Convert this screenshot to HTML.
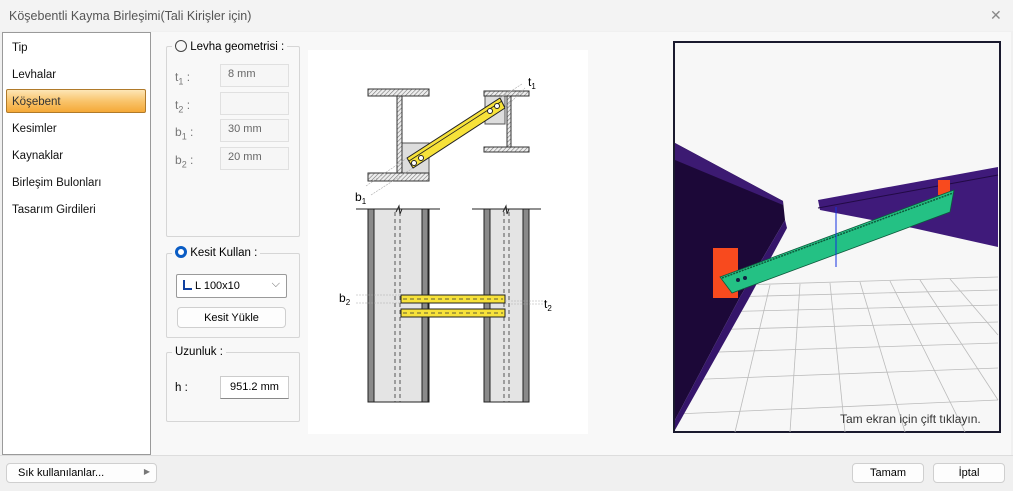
<!DOCTYPE html>
<html><head><meta charset="utf-8"><style>
*{margin:0;padding:0;box-sizing:border-box}
body{width:1013px;height:491px;background:#f0f0f0;font-family:"Liberation Sans",sans-serif;font-size:12px;color:#000;position:relative;overflow:hidden}
.a{position:absolute}
.title{left:0;top:0;width:1013px;height:31px;background:#f3f3f3;color:#555;font-size:12.5px;padding:9px 0 0 9px}
.list{left:2px;top:32px;width:149px;height:423px;background:#fff;border:1px solid #9a9a9a}
.li{position:absolute;left:12px;font-size:11.5px;color:#111}
.sel{left:6px;top:89px;width:140px;height:24px;border:1px solid #b07a2a;border-radius:2px;background:linear-gradient(#fde6b6,#f9c46c 50%,#f5a938)}
.grp{border:1px solid #d6d6d6;border-radius:2px}
.lbl{background:#f8f8f8;padding:0 3px;font-size:11.5px}
.inp{background:#f6f6f6;border:1px solid #e0e0e0;color:#666;font-size:11px;padding:3px 0 0 7px}
.btn{background:#fdfdfd;border:1px solid #cfcfcf;border-radius:4px;font-size:11px;text-align:center}
</style></head><body>
<div class="a title">Köşebentli Kayma Birleşimi(Tali Kirişler için)</div>
<div class="a" style="left:990px;top:7px;font-size:14px;color:#888">✕</div>
<div class="a" style="left:151px;top:32px;width:860px;height:423px;background:#f8f8f8"></div>
<div class="a list"></div>
<div class="a sel"></div>
<div class="a li" style="top:42px">Tip</div>
<div class="a li" style="top:69px">Levhalar</div>
<div class="a li" style="top:96px;color:#333">Köşebent</div>
<div class="a li" style="top:123px">Kesimler</div>
<div class="a li" style="top:150px">Kaynaklar</div>
<div class="a li" style="top:177px">Birleşim Bulonları</div>
<div class="a li" style="top:204px">Tasarım Girdileri</div>

<div class="a grp" style="left:166px;top:46px;width:134px;height:191px"></div>
<div class="a lbl" style="left:172px;top:40px"><span style="display:inline-block;width:12px;height:12px;border:1px solid #444;border-radius:50%;vertical-align:-2px"></span> Levha geometrisi :</div>
<div class="a" style="left:175px;top:70px;color:#777;font-size:12px">t<sub style="font-size:9px">1</sub> :</div>
<div class="a" style="left:175px;top:98px;color:#777;font-size:12px">t<sub style="font-size:9px">2</sub> :</div>
<div class="a" style="left:175px;top:125px;color:#777;font-size:12px">b<sub style="font-size:9px">1</sub> :</div>
<div class="a" style="left:175px;top:153px;color:#777;font-size:12px">b<sub style="font-size:9px">2</sub> :</div>
<div class="a inp" style="left:220px;top:64px;width:69px;height:23px">8 mm</div>
<div class="a inp" style="left:220px;top:92px;width:69px;height:23px"></div>
<div class="a inp" style="left:220px;top:119px;width:69px;height:23px">30 mm</div>
<div class="a inp" style="left:220px;top:147px;width:69px;height:23px">20 mm</div>

<div class="a grp" style="left:166px;top:253px;width:134px;height:85px"></div>
<div class="a lbl" style="left:172px;top:246px"><span style="display:inline-block;width:12px;height:12px;border:3.5px solid #0a5cc4;border-radius:50%;vertical-align:-2px;background:#fff"></span> Kesit Kullan :</div>
<div class="a" style="left:176px;top:274px;width:111px;height:24px;background:#fff;border:1px solid #9a9a9a;border-radius:2px;font-size:11px;padding:5px 0 0 6px"><span style="display:inline-block;width:9px;height:10px;border-left:2px solid #1040a0;border-bottom:2px solid #1040a0;vertical-align:-1px"></span> L 100x10<span style="position:absolute;right:6px;top:3px;color:#666">⌵</span></div>
<div class="a btn" style="left:177px;top:307px;width:109px;height:21px;padding-top:4px">Kesit Yükle</div>

<div class="a grp" style="left:166px;top:352px;width:134px;height:70px"></div>
<div class="a lbl" style="left:172px;top:346px">Uzunluk :</div>
<div class="a" style="left:175px;top:382px;font-size:11.5px">h :</div>
<div class="a" style="left:220px;top:376px;width:69px;height:23px;background:#fff;border:1px solid #ccc;border-bottom-color:#888;font-size:11px;padding:4px 0 0 9px">951.2 mm</div>

<svg class="a" style="left:0;top:0" width="1013" height="491">
<defs><pattern id="h" width="3" height="3" patternUnits="userSpaceOnUse" patternTransform="rotate(45)"><rect width="3" height="3" fill="#eee"/><line x1="0" y1="0" x2="0" y2="3" stroke="#777" stroke-width="1.2"/></pattern></defs>
<rect x="308" y="50" width="280" height="384" fill="#fff"/>
<rect x="401" y="143" width="28" height="30" fill="#ddd" stroke="#555"/>
<rect x="485" y="96" width="20" height="28" fill="#ddd" stroke="#555"/>
<rect x="368" y="89" width="61" height="7" fill="url(#h)" stroke="#333"/>
<rect x="397" y="96" width="5" height="77" fill="url(#h)" stroke="#333"/>
<rect x="368" y="173" width="61" height="8" fill="url(#h)" stroke="#333"/>
<rect x="484" y="91" width="45" height="5" fill="url(#h)" stroke="#333"/>
<rect x="507" y="96" width="4" height="51" fill="url(#h)" stroke="#333"/>
<rect x="484" y="147" width="45" height="5" fill="url(#h)" stroke="#333"/>
<polygon points="407,158 413,168 505,108 500,98" fill="#f7e23a" stroke="#222"/>
<line x1="409" y1="161" x2="502" y2="101" stroke="#222" stroke-width=".8"/>
<g fill="#fff" stroke="#222"><circle cx="414" cy="163" r="2.5"/><circle cx="421" cy="158" r="2.5"/><circle cx="490" cy="111" r="2.5"/><circle cx="497" cy="106" r="2.5"/></g>
<g stroke="#aaa" stroke-width=".6" stroke-dasharray="2,1"><line x1="366" y1="186" x2="407" y2="158"/><line x1="371" y1="195" x2="413" y2="168"/><line x1="500" y1="98" x2="522" y2="84"/><line x1="505" y1="108" x2="525" y2="88"/></g>
<text x="355" y="201" font-size="12">b<tspan font-size="8" dy="3">1</tspan></text>
<text x="528" y="86" font-size="12">t<tspan font-size="8" dy="3">1</tspan></text>
<g stroke="#222" stroke-width="1">
<line x1="356" y1="209" x2="440" y2="209"/><line x1="472" y1="209" x2="541" y2="209"/>
<rect x="368" y="209" width="61" height="193" fill="#e4e4e4"/>
<rect x="368" y="209" width="6" height="193" fill="#8a8a8a"/><rect x="422" y="209" width="6" height="193" fill="#8a8a8a"/>
<rect x="484" y="209" width="45" height="193" fill="#e4e4e4"/>
<rect x="484" y="209" width="6" height="193" fill="#8a8a8a"/><rect x="523" y="209" width="6" height="193" fill="#8a8a8a"/>
</g>
<g stroke="#333" stroke-width=".8" stroke-dasharray="4,3"><line x1="395" y1="212" x2="395" y2="402"/><line x1="400" y1="212" x2="400" y2="402"/><line x1="504" y1="212" x2="504" y2="402"/><line x1="509" y1="212" x2="509" y2="402"/></g>
<path d="M396 212 l3 -6 l1 8 l2 -5" fill="none" stroke="#222"/><path d="M503 212 l3 -6 l1 8 l2 -5" fill="none" stroke="#222"/>
<rect x="401" y="295" width="104" height="8" fill="#f7e23a" stroke="#222"/>
<rect x="401" y="309" width="104" height="8" fill="#f7e23a" stroke="#222"/>
<g stroke="#333" stroke-width=".7" stroke-dasharray="4,3"><line x1="403" y1="299" x2="503" y2="299"/><line x1="403" y1="313" x2="503" y2="313"/></g>
<g stroke="#aaa" stroke-width=".6" stroke-dasharray="2,1"><line x1="356" y1="295" x2="401" y2="295"/><line x1="356" y1="303" x2="401" y2="303"/><line x1="505" y1="301" x2="545" y2="301"/><line x1="505" y1="304" x2="545" y2="304"/></g>
<text x="339" y="302" font-size="12">b<tspan font-size="8" dy="3">2</tspan></text>
<text x="544" y="308" font-size="12">t<tspan font-size="8" dy="3">2</tspan></text>
<rect x="674" y="42" width="326" height="390" fill="#f7f7f7" stroke="#1a1a2e" stroke-width="2"/>
<g stroke="#bbb" stroke-width=".8">
<line x1="740" y1="285" x2="998" y2="277"/><line x1="725" y1="297" x2="998" y2="290"/><line x1="712" y1="312" x2="998" y2="305"/><line x1="700" y1="330" x2="998" y2="322"/><line x1="688" y1="353" x2="998" y2="343"/><line x1="680" y1="380" x2="998" y2="368"/><line x1="676" y1="414" x2="998" y2="400"/>
<line x1="770" y1="285" x2="735" y2="432"/><line x1="800" y1="284" x2="790" y2="432"/><line x1="830" y1="283" x2="845" y2="432"/><line x1="860" y1="282" x2="905" y2="432"/><line x1="890" y1="281" x2="965" y2="432"/><line x1="920" y1="280" x2="998" y2="400"/><line x1="950" y1="279" x2="998" y2="335"/>
</g>
<polygon points="675,143 783,201 785,220 740,297 675,420" fill="#1c0838"/>
<polygon points="675,143 783,201 783,205 675,160" fill="#3c1a72"/>
<polygon points="740,297 785,220 787,228 748,300 675,430 675,420" fill="#35156a"/>
<polygon points="818,200 998,167 998,247 913,228 820,210" fill="#3f1a7a"/>
<line x1="818" y1="208" x2="998" y2="175" stroke="#220a45"/>
<rect x="713" y="248" width="25" height="50" fill="#f84a1e"/>
<rect x="938" y="180" width="12" height="15" fill="#f84a1e"/>
<polygon points="720,277 954,190 950,212 732,293" fill="#24c184" stroke="#0d5a3c" stroke-width=".8"/>
<line x1="722" y1="278" x2="953" y2="193" stroke="#0d5a3c" stroke-width="1.5" stroke-dasharray="2,1"/>
<line x1="836" y1="207" x2="836" y2="267" stroke="#1530e0"/>
<circle cx="738" cy="280" r="2" fill="#124"/><circle cx="745" cy="278" r="2" fill="#124"/>
<text x="840" y="423" font-size="12" fill="#333">Tam ekran için çift tıklayın.</text>
</svg>

<div class="a" style="left:0;top:455px;width:1013px;height:1px;background:#ddd"></div>
<div class="a btn" style="left:6px;top:463px;width:151px;height:20px;padding:3px 0 0 0;text-align:left;padding-left:11px">Sık kullanılanlar...<span style="position:absolute;right:6px;top:3px;font-size:8px;color:#777">▶</span></div>
<div class="a btn" style="left:852px;top:463px;width:72px;height:20px;padding-top:3px">Tamam</div>
<div class="a btn" style="left:933px;top:463px;width:72px;height:20px;padding-top:3px">İptal</div>
</body></html>
